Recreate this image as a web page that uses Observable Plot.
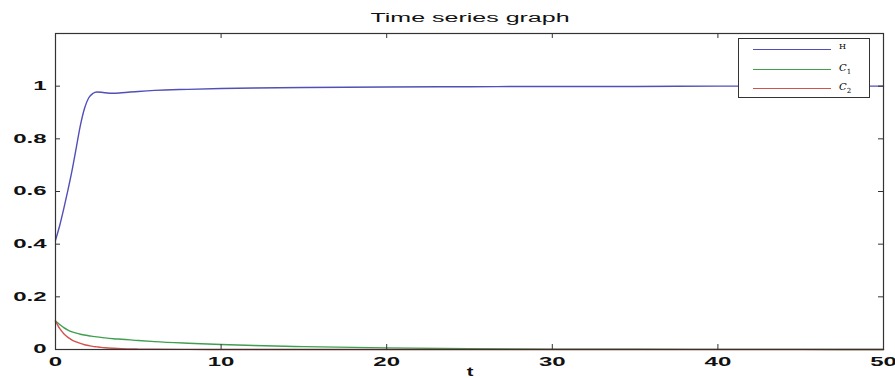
<!DOCTYPE html>
<html>
<head>
<meta charset="utf-8">
<script src="https://cdn.jsdelivr.net/npm/d3@7"></script>
<script src="https://cdn.jsdelivr.net/npm/@observablehq/plot@0.6"></script>
<style>
  body { margin: 0; background: #fff; }
  #wrap { position: relative; width: 895px; height: 378px; font-family: "Liberation Sans", Arial, sans-serif; overflow: hidden; }
  .ov { position: absolute; color: #111; white-space: nowrap; line-height: 1; }
  .wide { display: inline-block; }
  #legend { position: absolute; left: 738px; top: 38px; width: 132px; height: 60px; border: 1px solid #333; background: #fff; box-sizing: border-box; }
  .lrow { position: absolute; left: 14px; height: 0; width: 78px; }
  .ltxt { position: absolute; left: 100px; font-size: 10px; font-family: "DejaVu Serif", serif; }
</style>
</head>
<body>
<div id="wrap"></div>
<script>
const t  = [0, 0.25, 0.5, 0.75, 1, 1.25, 1.5, 1.75, 2, 2.25, 2.5, 2.75, 3, 3.5, 4, 5, 6, 8, 10, 12, 15, 20, 25, 30, 35, 40, 45, 50];
const H  = [0.415, 0.47, 0.535, 0.605, 0.68, 0.765, 0.85, 0.915, 0.955, 0.972, 0.978, 0.977, 0.975, 0.973, 0.975, 0.980, 0.984, 0.988, 0.991, 0.993, 0.995, 0.997, 0.998, 0.999, 0.999, 1.0, 1.0, 1.0];
const C1 = [0.108, 0.095, 0.083, 0.074, 0.067, 0.062, 0.058, 0.055, 0.052, 0.050, 0.048, 0.046, 0.044, 0.041, 0.039, 0.034, 0.030, 0.024, 0.019, 0.015, 0.011, 0.006, 0.003, 0.0015, 0.001, 0.0005, 0.0003, 0.0002];
const C2 = [0.108, 0.080, 0.060, 0.046, 0.036, 0.029, 0.023, 0.018, 0.015, 0.012, 0.010, 0.008, 0.0065, 0.0045, 0.003, 0.0015, 0.0008, 0.0003, 0.0001, 0, 0, 0, 0, 0, 0, 0, 0, 0];
const xTicks = [0, 10, 20, 30, 40, 50];
const yTicks = [0, 0.2, 0.4, 0.6, 0.8, 1];
const seriesNames = ["H", "C1", "C2"];
const colors = ["#5050b8", "#3f9f4f", "#d2524e"];

const rows = [];
t.forEach((tv, i) => {
  rows.push({t: tv, v: H[i], s: "H"});
  rows.push({t: tv, v: C1[i], s: "C1"});
  rows.push({t: tv, v: C2[i], s: "C2"});
});

const plot = Plot.plot({
  width: 895,
  height: 378,
  marginLeft: 55,
  marginRight: 12,
  marginTop: 33,
  marginBottom: 29,
  style: {fontFamily: "Liberation Sans, Arial, sans-serif", fontSize: "12px", color: "#111", background: "#fff", overflow: "visible"},
  x: {domain: [0, 50]},
  y: {domain: [0, 1.2]},
  color: {domain: seriesNames, range: colors},
  marks: [
    Plot.line(rows, {x: "t", y: "v", z: "s", stroke: "s", strokeWidth: 1.4, curve: "monotone-x"}),
    Plot.tickX(xTicks, {x: d => d, insetTop: 311, stroke: "#333"}),
    Plot.tickX(xTicks, {x: d => d, insetBottom: 311, stroke: "#333"}),
    Plot.tickY(yTicks, {y: d => d, insetRight: 823, stroke: "#333"}),
    Plot.tickY(yTicks, {y: d => d, insetLeft: 823, stroke: "#333"}),
    Plot.axisX(xTicks, {tickSize: 0, tickPadding: 8, label: null, fontSize: 12, fontWeight: "bold"}),
    Plot.axisY(yTicks, {tickSize: 0, tickPadding: 9, label: null, fontSize: 12, fontWeight: "bold", tickFormat: d => String(d)}),
    Plot.frame({stroke: "#333", strokeWidth: 1.2})
  ]
});

const wrap = document.getElementById("wrap");
wrap.appendChild(plot);

// stretch tick labels horizontally like the reference
plot.querySelectorAll('g[aria-label="x-axis tick label"] text, g[aria-label="y-axis tick label"] text').forEach(el => {
  const tr = el.getAttribute("transform") || "";
  el.setAttribute("transform", tr + " scale(2,1)");
});

function addOv(html, left, top, size, weight, sx) {
  const d = document.createElement("div");
  d.className = "ov";
  d.style.left = left + "px"; d.style.top = top + "px";
  d.style.fontSize = size + "px"; d.style.fontWeight = weight || "normal";
  d.style.transform = "translateX(-50%)";
  d.innerHTML = '<span class="wide" style="transform:scaleX(' + sx + ')">' + html + '</span>';
  wrap.appendChild(d);
}
addOv("Time series graph", 470, 12, 12.5, "normal", 2.0);
addOv("t", 470, 366, 12.5, "bold", 1.6);

const legend = document.createElement("div");
legend.id = "legend";
const labels = ["H", "<i>C</i><sub style='font-size:7px'>1</sub>", "<i>C</i><sub style='font-size:7px'>2</sub>"];
seriesNames.forEach((s, i) => {
  const y = 10 + i * 19.5;
  const ln = document.createElement("div");
  ln.className = "lrow";
  ln.style.top = y + "px";
  ln.style.borderTop = "1.3px solid " + colors[i];
  legend.appendChild(ln);
  const tx = document.createElement("div");
  tx.className = "ltxt";
  tx.style.top = (y - 7) + "px";
  tx.style.fontSize = i === 0 ? "8px" : "10px";
  tx.innerHTML = labels[i];
  legend.appendChild(tx);
});
wrap.appendChild(legend);
</script>
</body>
</html>
